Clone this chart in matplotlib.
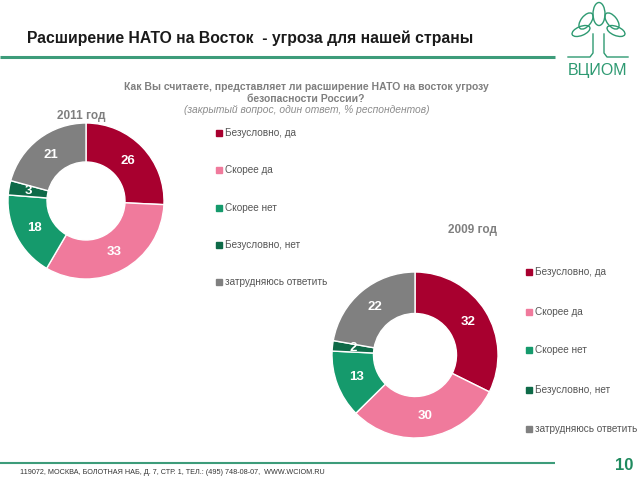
import matplotlib
matplotlib.use("Agg")
import matplotlib.pyplot as plt
from matplotlib.patches import Ellipse, Rectangle
import numpy as np

plt.rcParams['font.family'] = ['Liberation Sans', 'DejaVu Sans']

categories = ["Безусловно, да", "Скорее да", "Скорее нет", "Безусловно, нет", "затрудняюсь ответить"]
values_2011 = [26, 33, 18, 3, 21]
values_2009 = [32, 30, 13, 2, 22]
colors = ["#a8002f", "#f07a9c", "#159a6c", "#0e6a48", "#808080"]

title = "Расширение НАТО на Восток  - угроза для нашей страны"
question = "Как Вы считаете, представляет ли расширение НАТО на восток угрозу\nбезопасности России?"
subtitle = "(закрытый вопрос, один ответ, % респондентов)"
footer = "119072, МОСКВА, БОЛОТНАЯ НАБ, Д. 7, СТР. 1, ТЕЛ.: (495) 748-08-07,  WWW.WCIOM.RU"
page = "10"

W, H = 640, 480
fig = plt.figure(figsize=(6.4, 4.8), dpi=100)
green = "#3d9c7a"

# overlay axes in pixel coordinates
ov = fig.add_axes([0, 0, 1, 1])
ov.set_xlim(0, W)
ov.set_ylim(H, 0)
ov.axis("off")

ov.text(27, 38, title, fontsize=11.3, fontweight="bold", color="#1a1a1a", va="center", ha="left")
ov.plot([0, 555], [56.5, 56.5], color=green, lw=2.2, solid_capstyle="butt")
ov.text(306, 93, question, fontsize=7.5, fontweight="bold", color="#7f7f7f", ha="center", va="center",
        linespacing=1.2)
ov.text(307, 110, subtitle, fontsize=7.4, style="italic", color="#8c8c8c", ha="center", va="center")

# logo
lc = "#2e9a72"
for (cx, cy, w, h, ang) in [(599, 14, 12, 23, 0), (586, 21, 10, 19, 38), (612, 21, 10, 19, -38),
                            (581, 31, 9, 19, 68), (616, 31, 9, 19, -68)]:
    ov.add_patch(Ellipse((cx, cy), w, h, angle=ang, fill=False, ec=lc, lw=1.0))
ov.plot([593, 593, 590, 568], [34, 53, 57, 57], color=lc, lw=1.0)
ov.plot([604, 604, 607, 628], [34, 53, 57, 57], color=lc, lw=1.0)
ov.text(598, 70, "ВЦИОМ", fontsize=11.5, color=lc, ha="center", va="center")

# footer
ov.plot([0, 555], [463, 463], color=green, lw=1.5, solid_capstyle="butt")
ov.text(20, 472, footer, fontsize=5.2, color="#333333", ha="left", va="center")
ov.text(624, 466, page, fontsize=12, fontweight="bold", color="#1e8a5e", ha="center", va="center")


def donut(cx, cy, r, vals, year, yx, yy, legx, legys):
    ax = fig.add_axes([(cx - r) / W, (H - cy - r) / H, 2 * r / W, 2 * r / H])
    wedges, _ = ax.pie(vals, colors=colors, startangle=90, counterclock=False,
                       wedgeprops=dict(width=0.5, edgecolor="white", linewidth=1.0))
    ax.set_xlim(-1, 1)
    ax.set_ylim(-1, 1)
    ax.axis("off")
    total = sum(vals)
    cum = 0
    for v in vals:
        mid = 90 - (cum + v / 2) / total * 360
        cum += v
        rr = 0.75
        x, y = rr * np.cos(np.radians(mid)), rr * np.sin(np.radians(mid))
        ax.text(x, y, str(v), color="white", fontsize=9.5, fontweight="bold", ha="center", va="center")
    ov.text(yx, yy, year, fontsize=8.5, fontweight="bold", color="#7f7f7f", ha="center", va="center")
    for c, lab, ly in zip(colors, categories, legys):
        ov.add_patch(Rectangle((legx - 3, ly - 3), 6, 6, color=c))
        ov.text(legx + 6, ly, lab, fontsize=7.2, color="#555555", ha="left", va="center")


donut(86, 201, 78, values_2011, "2011 год", 81, 116, 219, [133, 170, 208, 245, 282])
donut(415, 355, 83, values_2009, "2009 год", 472, 230, 529, [272, 312, 350, 390, 429])

fig.savefig("out.png", dpi=100)
